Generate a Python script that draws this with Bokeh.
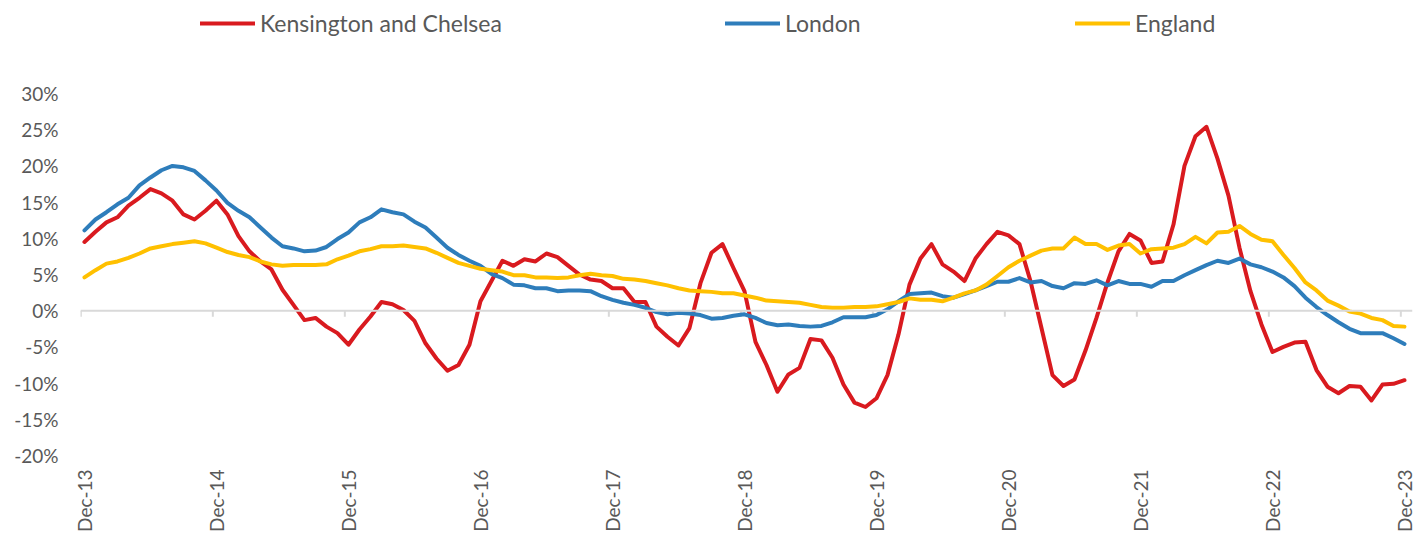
import math
from bokeh.plotting import figure
from bokeh.models import Span, Legend, LegendItem, FixedTicker, Range1d, ColumnDataSource
from bokeh.embed import file_html
from bokeh.resources import INLINE

# ---- data (annual % change, monthly Dec-13 .. Dec-23) ----
kensington = [9.5, 10.9, 12.2, 12.9, 14.5, 15.6, 16.8, 16.2, 15.2, 13.3, 12.6, 13.8,
              15.2, 13.3, 10.3, 8.2, 6.8, 5.7, 2.9, 0.8, -1.3, -1.0, -2.2, -3.1,
              -4.7, -2.6, -0.8, 1.2, 0.9, 0.1, -1.4, -4.5, -6.6, -8.3, -7.5, -4.7,
              1.3, 4.1, 6.9, 6.2, 7.1, 6.8, 7.9, 7.4, 6.2, 5.0, 4.3, 4.1,
              3.1, 3.1, 1.2, 1.2, -2.2, -3.6, -4.8, -2.4, 3.8, 8.0, 9.2, 5.9,
              2.7, -4.3, -7.5, -11.2, -8.8, -7.9, -3.9, -4.1, -6.5, -10.2, -12.7, -13.3,
              -12.1, -8.9, -3.3, 3.6, 7.2, 9.2, 6.4, 5.4, 4.1, 7.2, 9.2, 10.9,
              10.4, 9.2, 4.1, -2.4, -8.9, -10.4, -9.5, -5.5, -1.0, 3.9, 8.2, 10.6,
              9.7, 6.6, 6.8, 11.9, 20.0, 24.1, 25.4, 21.0, 15.9, 8.7, 2.7, -1.9,
              -5.7, -5.0, -4.4, -4.3, -8.2, -10.5, -11.4, -10.4, -10.5, -12.4, -10.2, -10.1,
              -9.6]
london = [11.1, 12.6, 13.6, 14.7, 15.6, 17.3, 18.4, 19.4, 20.0, 19.8, 19.3, 18.0,
          16.6, 14.9, 13.8, 12.9, 11.5, 10.1, 8.9, 8.6, 8.2, 8.3, 8.8, 9.9,
          10.8, 12.2, 12.9, 14.0, 13.6, 13.3, 12.3, 11.5, 10.1, 8.7, 7.7, 6.9,
          6.2, 5.1, 4.5, 3.6, 3.5, 3.1, 3.1, 2.7, 2.8, 2.8, 2.7, 2.0,
          1.5, 1.1, 0.8, 0.4, -0.2, -0.5, -0.3, -0.4, -0.6, -1.1, -1.0, -0.7,
          -0.5, -1.0, -1.7, -2.0, -1.9, -2.1, -2.2, -2.1, -1.6, -0.9, -0.9, -0.9,
          -0.6, 0.2, 1.3, 2.3, 2.4, 2.5, 2.0, 1.8, 2.3, 2.8, 3.4, 4.0,
          4.0, 4.5, 3.9, 4.1, 3.4, 3.1, 3.8, 3.7, 4.2, 3.5, 4.1, 3.7,
          3.7, 3.3, 4.1, 4.1, 4.9, 5.6, 6.3, 6.9, 6.6, 7.2, 6.4, 6.0,
          5.4, 4.6, 3.4, 1.8, 0.5, -0.6, -1.6, -2.5, -3.1, -3.1, -3.1, -3.8,
          -4.6]
england = [4.6, 5.6, 6.5, 6.8, 7.3, 7.9, 8.6, 8.9, 9.2, 9.4, 9.6, 9.3,
           8.7, 8.1, 7.7, 7.4, 6.8, 6.4, 6.2, 6.3, 6.3, 6.3, 6.4, 7.1,
           7.6, 8.2, 8.5, 8.9, 8.9, 9.0, 8.8, 8.6, 8.0, 7.3, 6.6, 6.2,
           5.8, 5.6, 5.4, 4.9, 4.9, 4.6, 4.6, 4.5, 4.6, 4.9, 5.1, 4.9,
           4.8, 4.4, 4.3, 4.1, 3.8, 3.5, 3.1, 2.8, 2.7, 2.6, 2.4, 2.4,
           2.1, 1.8, 1.4, 1.3, 1.2, 1.1, 0.8, 0.5, 0.4, 0.4, 0.5, 0.5,
           0.6, 0.9, 1.2, 1.7, 1.5, 1.5, 1.3, 1.8, 2.4, 2.8, 3.6, 4.8,
           6.0, 6.9, 7.6, 8.3, 8.6, 8.6, 10.1, 9.2, 9.2, 8.4, 9.0, 9.2,
           7.9, 8.5, 8.6, 8.7, 9.2, 10.2, 9.3, 10.8, 10.9, 11.7, 10.6, 9.8,
           9.6, 7.7, 5.9, 3.9, 2.8, 1.4, 0.7, -0.1, -0.4, -1.0, -1.3, -2.1,
           -2.2]
series_names = ["Kensington and Chelsea", "London", "England"]
x_tick_labels = ["Dec-13", "Dec-14", "Dec-15", "Dec-16", "Dec-17", "Dec-18",
                 "Dec-19", "Dec-20", "Dec-21", "Dec-22", "Dec-23"]
y_ticks = [-20, -15, -10, -5, 0, 5, 10, 15, 20, 25, 30]
y_tick_labels = ["-20%", "-15%", "-10%", "-5%", "0%", "5%", "10%", "15%", "20%", "25%", "30%"]

months = list(range(len(kensington)))
x_ticks = months[::12]

FONT = "Lato"
TXT = "#595959"
colors = ["#D91A1F", "#2E7DBB", "#FFC000"]

# layout (pixels)
W, H = 1415, 537
LEFT, RIGHT, BOTTOM = 80, 3, 82
TOP_PX = 93            # y of the 30% line
PLOT_PX = H - BOTTOM - TOP_PX  # pixels for 50 percentage points
y_top = 30 + TOP_PX * 50.0 / PLOT_PX   # extend frame to top so the legend sits inside it

p = figure(width=W, height=H, output_backend="svg", toolbar_location=None,
           x_range=Range1d(-0.36, 120.73), y_range=Range1d(-20, y_top),
           min_border_left=LEFT, min_border_right=RIGHT, min_border_top=0,
           min_border_bottom=BOTTOM)
p.outline_line_color = None
p.xgrid.visible = False
p.ygrid.visible = False
p.background_fill_color = "white"

# zero line with tick marks
p.add_layout(Span(location=0, dimension="width", line_color="#D9D9D9", line_width=2))
tick_src = ColumnDataSource(dict(x=[t - 0.33 for t in x_ticks]))
p.segment(x0="x", x1="x", y0=0, y1=-0.85, source=tick_src, line_color="#D9D9D9", line_width=2)

renderers = []
for vals, c in zip([kensington, london, england], colors):
    r = p.line(months, vals, line_color=c, line_width=4, line_join="round", line_cap="round")
    renderers.append(r)

# axes
xa = p.xaxis[0]
xa.ticker = FixedTicker(ticks=x_ticks)
xa.major_label_overrides = {t: lab for t, lab in zip(x_ticks, x_tick_labels)}
xa.major_label_orientation = math.pi / 2
xa.axis_line_color = None
xa.major_tick_line_color = None
xa.minor_tick_line_color = None
xa.major_tick_in = 0
xa.major_tick_out = 0
xa.major_label_standoff = 14
xa.major_label_text_font = FONT
xa.major_label_text_font_size = "19px"
xa.major_label_text_color = TXT

ya = p.yaxis[0]
ya.ticker = FixedTicker(ticks=y_ticks)
ya.major_label_overrides = {t: lab for t, lab in zip(y_ticks, y_tick_labels)}
ya.axis_line_color = None
ya.major_tick_line_color = None
ya.minor_tick_line_color = None
ya.major_tick_in = 0
ya.major_tick_out = 0
ya.major_label_standoff = 22
ya.major_label_text_font = FONT
ya.major_label_text_font_size = "19px"
ya.major_label_text_color = TXT

# legends (one per series, positioned in the top strip of the frame)
leg_x = [120, 645, 995]
leg_y = (H - BOTTOM) - 23 - 14
for name, r, lx in zip(series_names, renderers, leg_x):
    lg = Legend(items=[LegendItem(label=name, renderers=[r])], location=(lx, leg_y),
                orientation="horizontal", padding=0, margin=0, spacing=0,
                glyph_width=55, glyph_height=28, label_height=28, label_standoff=5,
                label_text_font=FONT, label_text_font_size="23px", label_text_color=TXT,
                border_line_color=None, background_fill_alpha=0)
    p.add_layout(lg, "center")

open("out.html", "w").write(file_html(p, INLINE))
